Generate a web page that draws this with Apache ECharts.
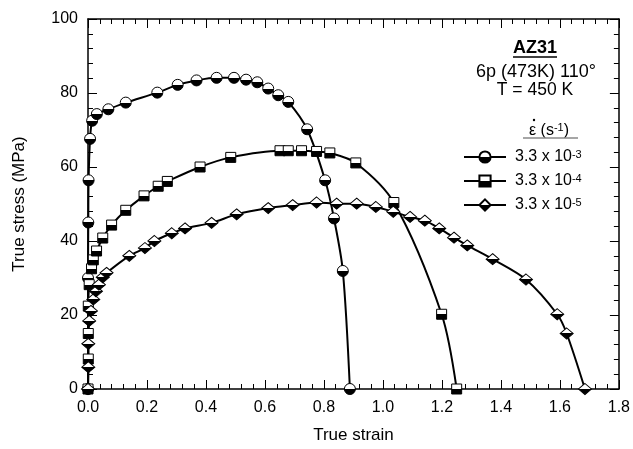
<!DOCTYPE html>
<html><head><meta charset="utf-8">
<script src="https://cdn.jsdelivr.net/npm/echarts@6/dist/echarts.min.js"></script>
<style>html,body{margin:0;padding:0;background:#fff}#c{width:633px;height:449px}</style>
</head><body><div id="c"></div>
<script>
// Series 3.3e-3 s^-1 (circles)
var strainA = [0, 0.0, 0.001, 0.002, 0.007, 0.014, 0.03, 0.069, 0.128, 0.235, 0.304, 0.368, 0.436, 0.495, 0.536, 0.574, 0.611, 0.645, 0.679, 0.743, 0.804, 0.834, 0.864, 0.888];
var stressA = [0, 30, 45, 56.4, 67.6, 72.5, 74.3, 75.6, 77.4, 80.1, 82.2, 83.4, 84.1, 84.1, 83.6, 82.9, 81.2, 79.4, 77.6, 70.2, 56.4, 46.1, 31.9, 0];
// Series 3.3e-4 s^-1 (squares)
var strainB = [0, 0.001, 0.001, 0.001, 0.004, 0.012, 0.018, 0.029, 0.05, 0.08, 0.128, 0.19, 0.238, 0.269, 0.38, 0.484, 0.651, 0.679, 0.724, 0.775, 0.82, 0.908, 1.037, 1.199, 1.25];
var stressB = [0, 8.1, 15, 22.4, 28.2, 32.5, 34.9, 37.3, 40.8, 44.3, 48.3, 52.2, 54.8, 56.1, 60, 62.6, 64.4, 64.4, 64.4, 64.2, 63.8, 61.1, 50.4, 20.2, 0];
// Series 3.3e-5 s^-1 (diamonds)
var strainC = [0, 0.001, 0.001, 0.004, 0.010, 0.018, 0.027, 0.037, 0.05, 0.063, 0.14, 0.193, 0.225, 0.284, 0.329, 0.419, 0.504, 0.611, 0.694, 0.775, 0.843, 0.911, 0.976, 1.035, 1.092, 1.142, 1.191, 1.241, 1.286, 1.372, 1.485, 1.591, 1.623, 1.685];
var stressC = [0, 5.9, 12.2, 18.4, 21.1, 24.2, 26.4, 28.2, 30.2, 31.4, 36.0, 38.1, 40.0, 42.1, 43.4, 44.9, 47.2, 48.9, 49.7, 50.4, 50.1, 50.1, 49.2, 47.9, 46.5, 45.5, 43.4, 40.9, 38.8, 35.1, 29.6, 20.2, 15.0, 0];
var seriesNames = ['3.3 x 10^-3', '3.3 x 10^-4', '3.3 x 10^-5'];
var xTicks = [0, 0.2, 0.4, 0.6, 0.8, 1.0, 1.2, 1.4, 1.6, 1.8];
var yTicks = [0, 20, 40, 60, 80, 100];

function pairs(xs, ys) { return xs.map(function (x, i) { return [x, ys[i]]; }); }
var half = { type: 'linear', x: 0, y: 0, x2: 0, y2: 1, colorStops: [
  { offset: 0, color: '#fff' }, { offset: 0.5, color: '#fff' },
  { offset: 0.5, color: '#000' }, { offset: 1, color: '#000' }] };
function mk(name, data, symbol, size) {
  return { name: name, type: 'line', data: data, smooth: 0.3, symbol: symbol, symbolSize: size,
    showAllSymbol: true, lineStyle: { color: '#000', width: 2 },
    itemStyle: { color: half, borderColor: '#000', borderWidth: 1 }, emphasis: { disabled: true } };
}
var F = 'Liberation Sans, Arial, sans-serif';
function axisCommon() {
  return {
    type: 'value', splitLine: { show: false },
    axisLine: { onZero: false, lineStyle: { color: '#000', width: 1.5 } },
    axisTick: { inside: true, length: 9, lineStyle: { color: '#000', width: 1 } },
    minorTick: { show: true, splitNumber: 5, length: 5, lineStyle: { color: '#000', width: 1 } }
  };
}
var chart = echarts.init(document.getElementById('c'));
chart.setOption({
  animation: false,
  backgroundColor: '#fff',
  grid: { left: 88, right: 14, top: 19, bottom: 57 },
  xAxis: [
    Object.assign(axisCommon(), { min: xTicks[0], max: xTicks[xTicks.length - 1], interval: 0.2, position: 'bottom',
      name: 'True strain', nameLocation: 'middle', nameGap: 38,
      nameTextStyle: { fontFamily: F, fontSize: 17, color: '#000' },
      axisLabel: { fontFamily: F, fontSize: 16, color: '#000', margin: 11, formatter: function (v) { return v.toFixed(1); } } }),
    Object.assign(axisCommon(), { min: xTicks[0], max: xTicks[xTicks.length - 1], interval: 0.2, position: 'top',
      axisLabel: { show: false } })
  ],
  yAxis: [
    Object.assign(axisCommon(), { min: yTicks[0], max: yTicks[yTicks.length - 1], interval: 20, position: 'left',
      name: 'True stress (MPa)', nameLocation: 'middle', nameGap: 60, nameRotate: 90,
      nameTextStyle: { fontFamily: F, fontSize: 17, color: '#000' },
      axisLabel: { fontFamily: F, fontSize: 16, color: '#000', margin: 10 } }),
    Object.assign(axisCommon(), { min: yTicks[0], max: yTicks[yTicks.length - 1], interval: 20, position: 'right',
      axisLabel: { show: false } })
  ],
  legend: {
    orient: 'vertical', left: 463, top: 149, itemWidth: 42, itemHeight: 14, itemGap: 6, padding: 0,
    data: seriesNames,
    formatter: function (n) { var p = n.split('^'); return p[0] + '{sup|' + p[1] + '}'; },
    textStyle: { fontFamily: F, fontSize: 16, color: '#000', lineHeight: 16, padding: [0, 0, 0, 4],
      rich: { sup: { fontFamily: F, fontSize: 11, color: '#000', verticalAlign: 'top', lineHeight: 16, padding: [0, 0, 7, 0] } } }
  },
  graphic: [
    { type: 'text', x: 535, y: 48, style: { text: 'AZ31', font: 'bold 18px ' + F, fill: '#000', align: 'center', verticalAlign: 'middle' } },
    { type: 'line', shape: { x1: 513, y1: 57, x2: 557, y2: 57 }, style: { stroke: '#000', lineWidth: 1.5 } },
    { type: 'text', x: 536, y: 72, style: { text: '6p (473K) 110°', font: '18px ' + F, fill: '#000', align: 'center', verticalAlign: 'middle' } },
    { type: 'text', x: 535, y: 90, style: { text: 'T = 450 K', font: '17.5px ' + F, fill: '#000', align: 'center', verticalAlign: 'middle' } },
    { type: 'text', x: 529, y: 131, style: { text: 'ε (s{sup|-1})', font: '16px ' + F, fill: '#000', align: 'left', verticalAlign: 'middle',
      rich: { sup: { fontFamily: F, fontSize: 11, fill: '#000', verticalAlign: 'top', padding: [0, 0, 7, 0] } } } },
    { type: 'circle', shape: { cx: 534, cy: 120, r: 1.2 }, style: { fill: '#000' } },
    { type: 'line', shape: { x1: 523, y1: 138, x2: 578, y2: 138 }, style: { stroke: '#888', lineWidth: 1.5 } }
  ],
  series: [
    mk(seriesNames[0], pairs(strainA, stressA), 'circle', 11),
    mk(seriesNames[1], pairs(strainB, stressB), 'rect', 10),
    mk(seriesNames[2], pairs(strainC, stressC), 'diamond', [13, 11])
  ]
});
</script></body></html>
